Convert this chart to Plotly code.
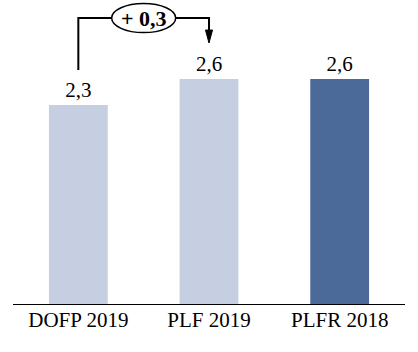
import plotly.graph_objects as go

categories = ["DOFP 2019", "PLF 2019", "PLFR 2018"]
values = [2.3, 2.6, 2.6]

bar_colors = ["#c5cfe1", "#c5cfe1", "#4b6a9a"]
FONT = "Liberation Serif, Times New Roman, Times, serif"

def fr(v):
    return f"{v:.1f}".replace(".", ",")

fig = go.Figure(go.Bar(
    x=categories, y=values, width=0.45,
    marker=dict(color=bar_colors, line=dict(width=0)),
    text=[fr(v) for v in values], textposition="outside",
    textfont=dict(family=FONT, size=21, color="black"),
    cliponaxis=False,
))

top = 3.306
ell_hw, ell_hh = 0.245, 0.168
start = values[0] + 0.405
tip = values[1] + 0.417
head = tip + 0.15
hw = 0.027
line = dict(color="black", width=2)
shapes = [
    dict(type="path", xref="x", yref="y",
         path=f"M 0 {start} L 0 {top} L {0.5-ell_hw} {top}", line=line),
    dict(type="path", xref="x", yref="y",
         path=f"M {0.5+ell_hw} {top} L 1 {top} L 1 {head}", line=line),
    dict(type="path", xref="x", yref="y",
         path=f"M {1-hw} {head} L {1+hw} {head} L 1 {tip} Z",
         line=dict(color="black", width=1), fillcolor="black"),
    dict(type="circle", xref="x", yref="y",
         x0=0.5-ell_hw, x1=0.5+ell_hw, y0=top-ell_hh, y1=top+ell_hh,
         line=dict(color="black", width=1.5), fillcolor="white"),
]
delta = values[1] - values[0]
fig.add_annotation(x=0.5, y=top, xref="x", yref="y", showarrow=False,
                   text=f"<b>+ {fr(delta)}</b>",
                   font=dict(family=FONT, size=22, color="black"))

fig.update_layout(
    width=418, height=352,
    margin=dict(l=13, r=13, t=0, b=48),
    paper_bgcolor="white", plot_bgcolor="white",
    font=dict(family=FONT),
    shapes=shapes, showlegend=False,
    xaxis=dict(showline=True, linecolor="black", linewidth=1, ticks="",
               ticklabelstandoff=-3,
               tickfont=dict(family=FONT, size=21, color="black"),
               showgrid=False, zeroline=False),
    yaxis=dict(range=[0, 3.5145], visible=False, showgrid=False, zeroline=False),
)
fig.write_html("out.html")
